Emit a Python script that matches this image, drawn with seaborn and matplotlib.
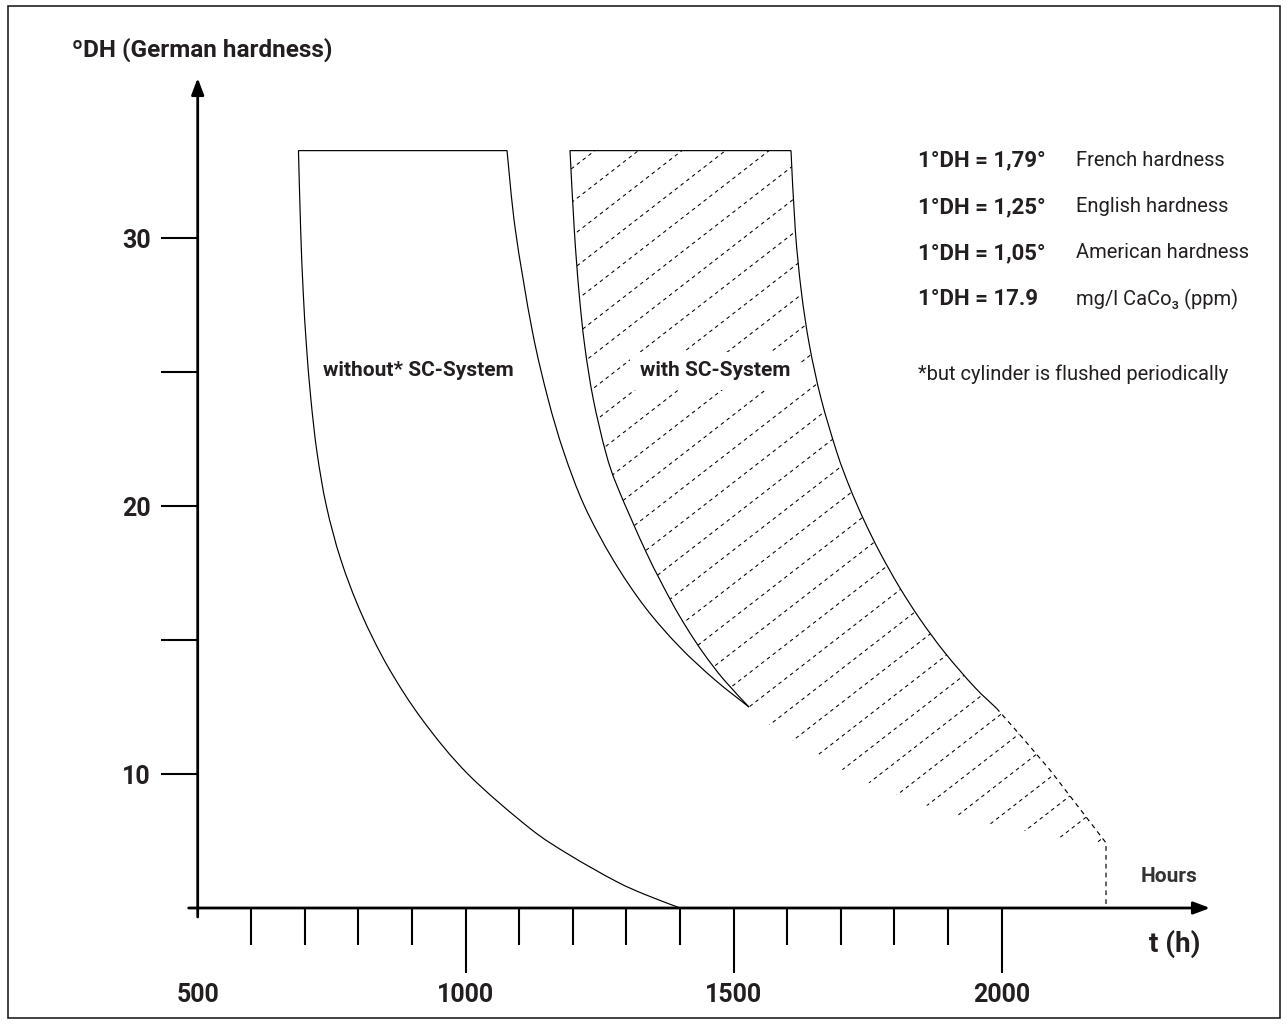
import numpy as np
import pandas as pd
import matplotlib
matplotlib.use("Agg")
import matplotlib.pyplot as plt
from matplotlib.patches import Rectangle, ArrowStyle, PathPatch
from matplotlib.path import Path
import seaborn as sns

# ---------------- data (hours, German hardness °DH) ----------------
# "without SC-System" band
without_left_h = [688.0, 692.1, 696.8, 702.8, 711.1, 722.6, 740.1, 767.0, 805.0, 855.0,
                  920.0, 1004.0, 1118.0, 1192.0, 1280.0, 1335.0, 1400.0]
without_left_dh = [33.26, 30.3, 28.0, 26.0, 24.0, 22.0, 20.0, 18.0, 16.0, 14.0,
                   12.0, 10.0, 8.0, 7.0, 6.0, 5.5, 5.0]
without_right_h = [1077.1, 1092.7, 1123.9, 1153.6, 1183.2, 1221.6, 1274.8, 1334.4, 1399.2, 1465.1, 1528.5]
without_right_dh = [33.26, 30.3, 26.57, 24.0, 22.0, 20.0, 18.0, 16.23, 14.74, 13.51, 12.50]

# "with SC-System" band
with_left_h = [1194.6, 1202.6, 1211.3, 1221.9, 1237.9, 1261.3, 1283.2, 1337.3, 1382.2, 1411.2,
               1443.5, 1482.0, 1528.5]
with_left_dh = [33.26, 30.3, 28.0, 26.0, 24.0, 22.0, 20.71, 18.25, 16.49, 15.49,
                14.51, 13.51, 12.50]
with_right_h = [1606.9, 1614.9, 1626.2, 1641.3, 1663.1, 1692.5, 1716.2, 1742.8, 1773.2, 1809.0,
                1848.6, 1894.6, 1949.0, 1990.0]
with_right_dh = [33.26, 30.3, 28.0, 26.0, 24.0, 22.0, 20.71, 19.48, 18.25, 16.98,
                 15.75, 14.51, 13.25, 12.46]
extrap_h = [1990.0, 2034.1, 2090.1, 2140.5, 2194.6, 2194.6]
extrap_dh = [12.46, 11.46, 10.15, 8.84, 7.43, 5.0]
with_lower_h = [1528.5, 1574.6, 1624.0, 1669.6, 1718.8, 1774.3, 1829.9, 1886.8, 1947.8,
                2016.4, 2081.9, 2164.7, 2194.6]
with_lower_dh = [12.50, 11.72, 11.08, 10.52, 10.00, 9.48, 9.03, 8.66, 8.28,
                 7.99, 7.72, 7.46, 7.43]

x_major = [500, 1000, 1500, 2000]
x_minor = [600, 700, 800, 900, 1100, 1200, 1300, 1400, 1600, 1700, 1800, 1900]
y_major = [10, 20, 30]
y_minor = [15, 25]

legend_left = ["1°DH = 1,79°", "1°DH = 1,25°", "1°DH = 1,05°", "1°DH = 17.9"]
legend_right = ["French hardness", "English hardness", "American hardness", "mg/l CaCo₃ (ppm)"]

# ---------------- style ----------------
sns.set_theme(style="white")
plt.rcParams["font.family"] = ["Roboto", "DejaVu Sans"]
TXT = "#231f20"

W, H = 1286, 1024
fig = plt.figure(figsize=(W / 100, H / 100), dpi=100)
fig.patch.set_facecolor("white")


def fx(px):
    return px / W


def fy(py):
    return 1 - py / H


def smooth_segments(h, d):
    """Bezier (Catmull-Rom) control points passing through the given data points."""
    P = np.column_stack([h, d]).astype(float)
    E = np.vstack([P[0], P, P[-1]])
    verts = []
    for i in range(len(P) - 1):
        p0, p1, p2, p3 = E[i], E[i + 1], E[i + 2], E[i + 3]
        verts += [p1 + (p2 - p0) / 6.0, p2 - (p3 - p1) / 6.0, p2]
    return verts


class PathBuilder:
    def __init__(self, start):
        self.v = [tuple(start)]
        self.c = [Path.MOVETO]

    def curve(self, h, d):
        seg = smooth_segments(h, d)
        self.v += [tuple(p) for p in seg]
        self.c += [Path.CURVE4] * len(seg)

    def line(self, pt):
        self.v.append(tuple(pt))
        self.c.append(Path.LINETO)

    def close(self):
        self.v.append(self.v[0])
        self.c.append(Path.CLOSEPOLY)

    def path(self):
        return Path(self.v, self.c)


# axes geometry (pixels)
ax_l, ax_r, ax_b, ax_t = 197.7, 1210.0, 908.0, 78.0
ax = fig.add_axes([fx(ax_l), fy(ax_b), (ax_r - ax_l) / W, (ax_b - ax_t) / H])
ax.set_facecolor("none")
ax.set_xlim(500, 500 + (ax_r - ax_l) / 0.536)
ax.set_ylim(5, 5 + (ax_b - ax_t) / 26.8)
for s in ax.spines.values():
    s.set_visible(False)

# axis lines with arrow heads
ext_x = -9 / (ax_r - ax_l)
ext_y = -9 / (ax_b - ax_t)
arr = ArrowStyle("-|>", head_length=0.45, head_width=0.17)
for xy, xyt in [((1, 0), (ext_x, 0)), ((0, 1), (0, ext_y))]:
    ax.annotate("", xy=xy, xycoords="axes fraction", xytext=xyt,
                arrowprops=dict(arrowstyle=arr, lw=2.0, color="black", mutation_scale=22,
                                shrinkA=0, shrinkB=0), annotation_clip=False)

# ticks
ax.set_xticks(x_major)
ax.set_xticklabels([str(v) for v in x_major])
ax.set_xticks(x_minor, minor=True)
ax.set_yticks(y_major)
ax.set_yticklabels([str(v) for v in y_major])
ax.set_yticks(y_minor, minor=True)
ax.tick_params(axis="x", which="major", direction="out", length=47, width=1.5, color="black",
               pad=7, labelsize=18, labelcolor=TXT, bottom=True)
ax.tick_params(axis="x", which="minor", direction="out", length=26.6, width=1.5, color="black",
               bottom=True)
ax.tick_params(axis="y", which="both", direction="out", length=27, width=1.5, color="black",
               pad=7, labelsize=18, labelcolor=TXT, left=True)
for lab in ax.get_xticklabels() + ax.get_yticklabels():
    lab.set_fontweight("bold")
ax.xaxis.get_major_ticks()[0].tick1line.set_visible(False)

# hatched area (dashed diagonal hatching) clipped to the "with" band
cb = PathBuilder((with_left_h[0], with_left_dh[0]))
cb.curve(with_left_h, with_left_dh)
cb.curve(with_lower_h, with_lower_dh)
for hh, dd in zip(extrap_h[-3::-1], extrap_dh[-3::-1]):
    cb.line((hh, dd))
cb.curve(with_right_h[::-1], with_right_dh[::-1])
cb.close()
clip_patch = PathPatch(cb.path(), facecolor="none", edgecolor="none", transform=ax.transData)
ax.add_patch(clip_patch)

slope = 0.776 * (0.536 / 26.8)  # ~38 degree lines, expressed in data units
spacing = 33.8 / 26.8
b0 = with_left_dh[-1] - slope * with_left_h[-1]
xs = np.array([1100, 2300])
for k in range(-14, 24):
    b = b0 + k * spacing
    ln, = ax.plot(xs, b + slope * xs, color="black", lw=0.75, linestyle=(0, (3.5, 3.5)), zorder=1)
    ln.set_clip_path(clip_patch)

# outlines of the two bands
CURVE_LW = 0.85
pb = PathBuilder((without_left_h[-1], without_left_dh[-1]))
pb.curve(without_left_h[::-1], without_left_dh[::-1])
pb.line((without_right_h[0], without_right_dh[0]))
pb.curve(without_right_h, without_right_dh)
ax.add_patch(PathPatch(pb.path(), fill=False, lw=CURVE_LW, ec="black", transform=ax.transData,
                       joinstyle="miter", zorder=3))

pb = PathBuilder((with_left_h[-1], with_left_dh[-1]))
pb.curve(with_left_h[::-1], with_left_dh[::-1])
pb.line((with_right_h[0], with_right_dh[0]))
pb.curve(with_right_h, with_right_dh)
ax.add_patch(PathPatch(pb.path(), fill=False, lw=CURVE_LW, ec="black", transform=ax.transData,
                       joinstyle="miter", zorder=3))

sns.lineplot(x=extrap_h, y=extrap_dh, sort=False, estimator=None,
             color="black", lw=0.85, ax=ax, linestyle=(0, (4.0, 3.5)), zorder=3)

# texts
fig.text(fx(72), fy(50), "ºDH (German hardness)", ha="left", va="center",
         fontsize=17.5, fontweight="bold", color=TXT)
fig.text(fx(418), fy(371), "without* SC-System", ha="center", va="center",
         fontsize=15, fontweight="bold", color=TXT)
fig.text(fx(715), fy(371), "with SC-System", ha="center", va="center",
         fontsize=15, fontweight="bold", color=TXT,
         bbox=dict(boxstyle="square,pad=0.45", fc="white", ec="none"))
rows_y = [160, 207, 253, 299]
for yy, a, b in zip(rows_y, legend_left, legend_right):
    fig.text(fx(918), fy(yy), a, ha="left", va="center", fontsize=16,
             fontweight="bold", color=TXT)
    fig.text(fx(1076), fy(yy), b, ha="left", va="center", fontsize=14.5, color=TXT)
fig.text(fx(918), fy(374), "*but cylinder is flushed periodically", ha="left", va="center",
         fontsize=14.5, color=TXT)
fig.text(fx(1169), fy(877), "Hours", ha="center", va="center", fontsize=15,
         fontweight="bold", color="#333333")
fig.text(fx(1200), fy(944), "t (h)", ha="right", va="center", fontsize=20,
         fontweight="bold", color=TXT)

# frame
fig.patches.append(Rectangle((fx(8), fy(1018)), (1280 - 8) / W, (1018 - 6) / H,
                             transform=fig.transFigure, fill=False, lw=1.2, ec=TXT))

fig.savefig("out.png", dpi=100)
